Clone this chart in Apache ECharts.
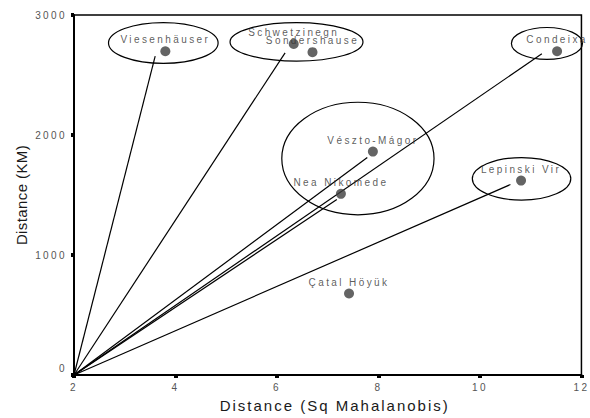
<!DOCTYPE html>
<html>
<head>
<meta charset="utf-8">
<script src="https://cdn.jsdelivr.net/npm/echarts@6/dist/echarts.min.js"></script>
<style>
  html, body { margin: 0; padding: 0; background: #fff; }
  /* the original output uses widely spaced letters */
  #chart { width: 590px; height: 418px; letter-spacing: 2.4px; }
  #chart text[style*="Helvetica"] { letter-spacing: 2px; }
  #chart text[style*="Arial"] { letter-spacing: 0.4px; }
</style>
</head>
<body>
<div id="chart"></div>
<script>
// sites: x = squared Mahalanobis distance, y = distance in km
const siteNames = ['Viesenhäuser', 'Schwetzinegn', 'Sondershause', 'Condeixa',
  'Vészto-Mágor', 'Nea Nikomede', 'Lepinski Vir', 'Çatal Höyük'];
const siteX = [3.80, 6.33, 6.70, 11.52, 7.89, 7.26, 10.81, 7.42];
const siteY = [2698, 2759, 2690, 2698, 1862, 1510, 1620, 679];

// lines from the origin point
const lineFrom = [2, 0];
const lineToX = [3.60, 6.16, 11.22, 7.78, 7.18, 10.60];
const lineToY = [2657, 2685, 2677, 1812, 1463, 1587];

// circled groups: centre x, centre y, half width, half height (data units)
const ellipseX = [3.76, 6.385, 11.32, 7.595, 10.82];
const ellipseY = [2767, 2776, 2763, 1804, 1635];
const ellipseRX = [1.08, 1.31, 0.70, 1.50, 0.97];
const ellipseRY = [170, 160, 133, 469, 177];

// axis ticks
const xTicks = [2, 4, 6, 8, 10, 12];
const yTicks = [0, 1000, 2000, 3000];

const FONT = '"Liberation Sans", sans-serif';
// same face under other names, so the css can give them their own spacing
const FONT_XNAME = 'Helvetica, "Liberation Sans", sans-serif';
const FONT_YNAME = 'Arial, "Liberation Sans", sans-serif';

const chart = echarts.init(document.getElementById('chart'), null, { renderer: 'svg' });

const option = {
  animation: false,
  grid: {
    left: 74, right: 7, top: 15, bottom: 38.5,
    show: true, borderColor: '#000', borderWidth: 1.5
  },
  xAxis: {
    type: 'value',
    min: xTicks[0], max: xTicks[xTicks.length - 1],
    interval: xTicks[1] - xTicks[0],
    name: 'Distance (Sq Mahalanobis)',
    nameLocation: 'middle',
    nameGap: 23,
    nameTextStyle: { fontSize: 15, color: '#1a1a1a', fontFamily: FONT_XNAME, padding: [0, 0, 0, 14] },
    axisLine: { lineStyle: { color: '#000', width: 2 } },
    axisTick: { length: 3, lineStyle: { color: '#000', width: 4 } },
    axisLabel: { color: '#555', fontSize: 10, margin: 7.5, fontFamily: FONT },
    splitLine: { show: false }
  },
  yAxis: {
    type: 'value',
    min: yTicks[0], max: yTicks[yTicks.length - 1],
    interval: yTicks[1] - yTicks[0],
    name: 'Distance (KM)',
    nameLocation: 'middle',
    nameGap: 45,
    nameTextStyle: { fontSize: 15, color: '#1a1a1a', fontFamily: FONT_YNAME },
    axisLine: { lineStyle: { color: '#000', width: 2 } },
    axisTick: { length: 3, lineStyle: { color: '#000', width: 4 } },
    axisLabel: {
      color: '#555', fontSize: 10, margin: 7, fontFamily: FONT,
      formatter: v => (v === 0 ? '{z|0}' : String(v)),
      rich: { z: { color: '#555', fontSize: 10, fontFamily: FONT, padding: [0, 0, 14, 0] } }
    },
    splitLine: { show: false }
  },
  series: [
    {
      type: 'custom',
      silent: true,
      data: ellipseX.map((x, i) => [x, ellipseY[i], ellipseRX[i], ellipseRY[i]]),
      renderItem: function (params, api) {
        const c = api.coord([api.value(0), api.value(1)]);
        const s = api.size([api.value(2), api.value(3)]);
        return {
          type: 'ellipse',
          shape: { cx: c[0], cy: c[1], rx: s[0], ry: s[1] },
          style: { fill: 'none', stroke: '#000', lineWidth: 1.2 }
        };
      },
      z: 2
    },
    {
      type: 'lines',
      coordinateSystem: 'cartesian2d',
      silent: true,
      data: lineToX.map((x, i) => ({ coords: [lineFrom, [x, lineToY[i]]] })),
      lineStyle: { color: '#000', width: 1.2, opacity: 1 },
      z: 3
    },
    {
      type: 'scatter',
      data: siteNames.map((n, i) => ({ name: n, value: [siteX[i], siteY[i]] })),
      symbolSize: 10,
      itemStyle: { color: '#3d3d3d' },
      label: {
        show: true, position: 'top', distance: 1.5, formatter: '{b}',
        color: '#333', fontSize: 10, fontFamily: FONT
      },
      z: 5
    }
  ]
};

chart.setOption(option);
</script>
</body>
</html>
